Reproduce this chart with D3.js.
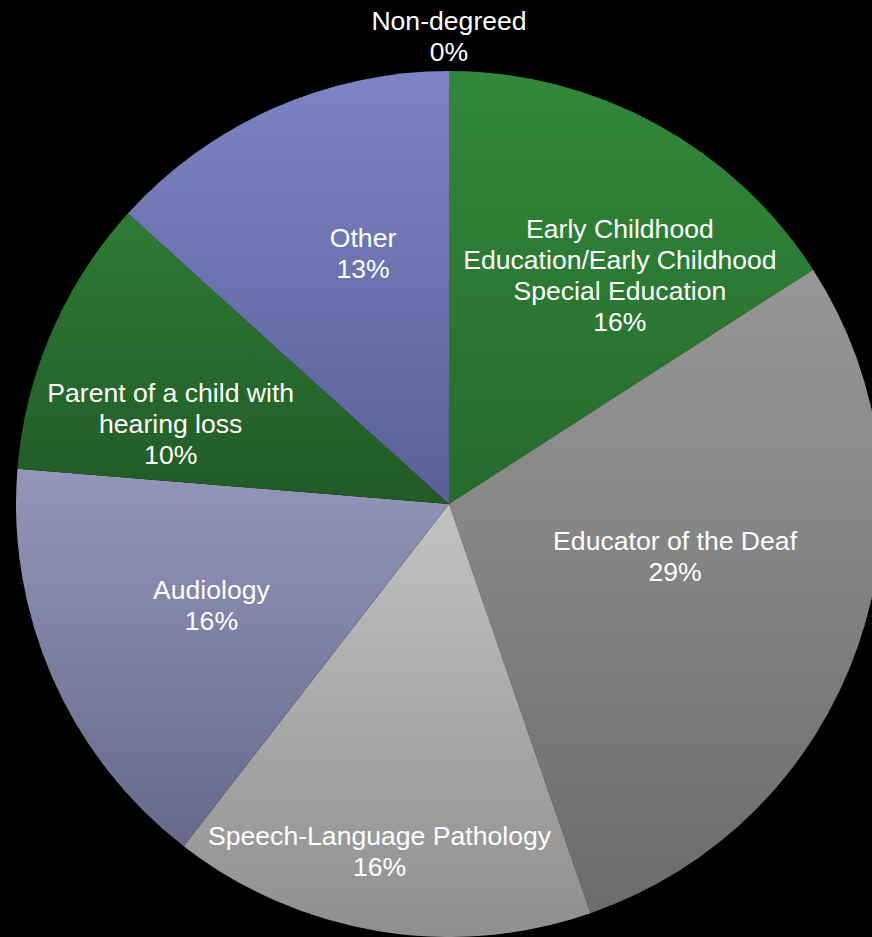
<!DOCTYPE html>
<html>
<head>
<meta charset="utf-8">
<script src="https://cdn.jsdelivr.net/npm/d3@7"></script>
<style>
  body { margin: 0; background: #000; }
  svg { display: block; }
  text { font-family: "Liberation Sans", Arial, sans-serif; fill: #fff; }
</style>
</head>
<body>
<script>
// dados (fatia em % do total)
const categorias = [
  'Early Childhood\nEducation/Early Childhood\nSpecial Education',
  'Educator of the Deaf',
  'Speech-Language Pathology',
  'Audiology',
  'Parent of a child with\nhearing loss',
  'Other',
  'Non-degreed'
]
const valores = [15.9, 28.8, 15.8, 15.8, 10.4, 13.3, 0]

// cores de cada fatia: topo e base do degradê
const corTopo = ['#32883a', '#979797', '#c2c2c2', '#9396b9', '#2e7a34', '#7c84c4']
const corBase = ['#266a2d', '#6c6c6c', '#8f8f8f', '#66698a', '#215a26', '#5a6096']

// ajuste fino dos rótulos (em relação ao centróide)
const ajusteRotulo = [[34, 22], [-44, -41], [-23, 65], [24, -14], [-16, 33], [30, 10], [0, 0]]

const dados = categorias.map(function (c, i) { return {nome: c, valor: valores[i]} })
const total = d3.sum(valores)

// dimensões
const largura = 872
const altura = 937
const centro = {x: 449, y: 504}
const raio = 433
const tamanhoFonte = 26.6
const alturaLinha = 31

var meuSVG = d3.select('body')
  .append('svg')
    .attr('width', largura)
    .attr('height', altura)

meuSVG.append('rect')
  .attr('width', largura)
  .attr('height', altura)
  .attr('fill', '#000')

// degradês verticais por fatia
var defs = meuSVG.append('defs')
corTopo.forEach(function (c, i) {
  var g = defs.append('linearGradient')
    .attr('id', 'grad' + i)
    .attr('x1', 0).attr('y1', 0)
    .attr('x2', 0).attr('y2', 1)
  g.append('stop').attr('offset', '0%').attr('stop-color', c)
  g.append('stop').attr('offset', '100%').attr('stop-color', corBase[i])
})

var grupo = meuSVG.append('g')
  .attr('transform', 'translate(' + centro.x + ',' + centro.y + ')')

var pizza = d3.pie()
  .sort(null)
  .value(function (d) { return d.valor })

var arco = d3.arc().innerRadius(0).outerRadius(raio)
var arcoRotulo = d3.arc().innerRadius(raio * 0.66).outerRadius(raio * 0.66)
var arcoFora = d3.arc().innerRadius(raio + 35).outerRadius(raio + 35)

var fatias = pizza(dados)

grupo.selectAll('path.fatia')
  .data(fatias.filter(function (d) { return d.value > 0 }))
  .enter()
  .append('path')
    .attr('class', 'fatia')
    .attr('d', arco)
    .attr('fill', function (d) { return 'url(#grad' + d.index + ')' })

// rótulos
var rotulos = grupo.selectAll('text.rotulo')
  .data(fatias)
  .enter()
  .append('text')
    .attr('class', 'rotulo')
    .attr('text-anchor', 'middle')
    .style('font-size', tamanhoFonte + 'px')
    .attr('transform', function (d) {
      var c = d.value > 0 ? arcoRotulo.centroid(d) : arcoFora.centroid(d)
      var a = ajusteRotulo[d.index]
      return 'translate(' + (c[0] + a[0]) + ',' + (c[1] + a[1]) + ')'
    })

rotulos.each(function (d) {
  var linhas = d.data.nome.split('\n')
  linhas.push(Math.round(d.value / total * 100) + '%')
  var topo = -(linhas.length - 1) / 2 * alturaLinha
  var t = d3.select(this)
  linhas.forEach(function (l, i) {
    t.append('tspan')
      .attr('x', 0)
      .attr('y', topo + i * alturaLinha)
      .attr('dy', '0.35em')
      .text(l)
  })
})
</script>
</body>
</html>
